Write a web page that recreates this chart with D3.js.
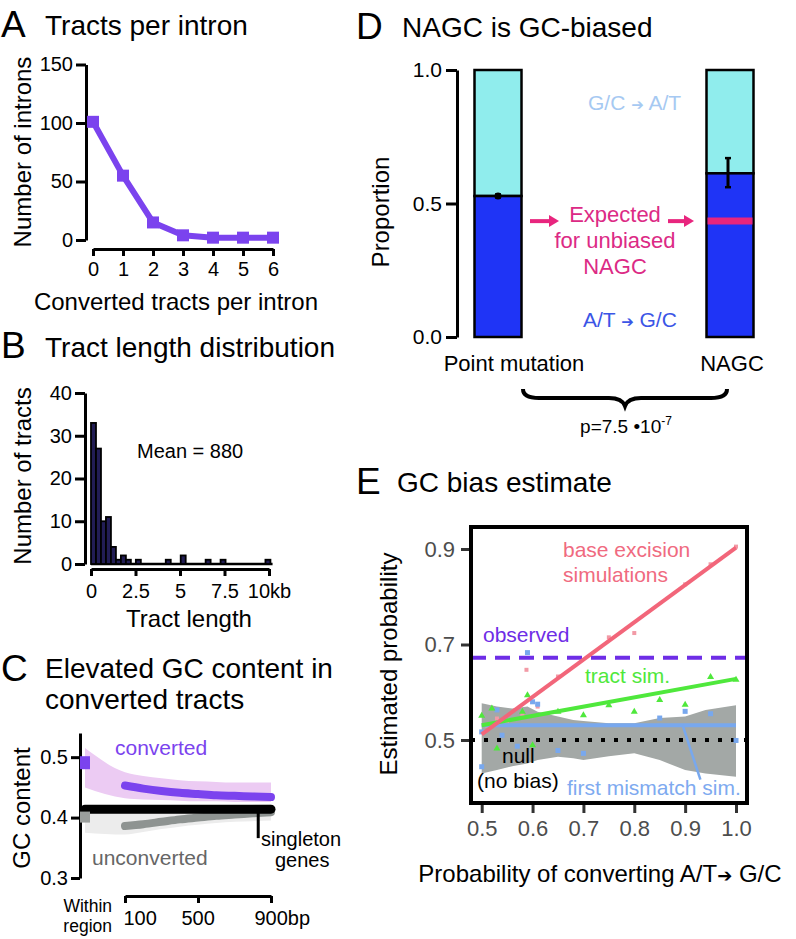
<!DOCTYPE html>
<html><head><meta charset="utf-8">
<script src="https://cdn.jsdelivr.net/npm/d3@7"></script>
<style>body{margin:0;background:#fff}svg{display:block}text{font-family:"Liberation Sans",Arial,Helvetica,sans-serif}</style>
</head><body><svg id="c" width="796" height="939"></svg>
<script>
// ---------- DATA ----------
// Panel A
const A_tracts = [0,1,2,3,4,5,6];
const A_introns = [101,55,15,4,2,2,2];
const A_yTicks = [0,50,100,150];
// Panel B (histogram, bins in kb)
const B_binWidth = 0.28;
const B_binStart = [0,0.28,0.56,0.84,1.12,1.40,1.68,1.96,2.52,4.20,5.04,6.44,7.28,9.80];
const B_counts   = [33,27,10,11,4,1,2,1,1,1,2,1,1,1];
const B_xTicks = [0,2.5,5,7.5,10];
const B_xLabels = ["0","2.5","5","7.5","10kb"];
const B_yTicks = [0,10,20,30,40];
// Panel C
const C_dist = [100,200,300,400,500,600,700,800,900];
const C_converted   = [0.453,0.448,0.444,0.441,0.439,0.437,0.436,0.435,0.434];
const C_convLo      = [0.432,0.430,0.429,0.428,0.427,0.427,0.426,0.426,0.426];
const C_convHi      = [0.475,0.469,0.465,0.462,0.460,0.459,0.458,0.458,0.458];
const C_unconverted = [0.386,0.389,0.393,0.397,0.400,0.403,0.405,0.407,0.409];
const C_unconvLo    = [0.372,0.376,0.381,0.385,0.388,0.391,0.393,0.394,0.395];
const C_unconvHi    = [0.410,0.412,0.414,0.416,0.418,0.419,0.420,0.421,0.422];
const C_withinConverted = 0.49, C_withinConvLo = 0.45, C_withinConvHi = 0.515;
const C_withinUnconverted = 0.40, C_withinUnconvLo = 0.375, C_withinUnconvHi = 0.42;
const C_singleton = 0.414;
const C_yTicks = [0.3,0.4,0.5];
const C_xTicks = [100,500,900];
const C_xLabels = ["100","500","900bp"];
// Panel D
const D_categories = ["Point mutation","NAGC"];
const D_ATtoGC = [0.528,0.613];
const D_errLo = [0.523,0.561];
const D_errHi = [0.534,0.670];
const D_expected = 0.434;
const D_yTicks = [0.0,0.5,1.0];
// Panel E
const E_xTicks = [0.5,0.6,0.7,0.8,0.9,1.0];
const E_yTicks = [0.5,0.7,0.9];
const E_bandX  = [0.50,0.53,0.56,0.59,0.61,0.65,0.68,0.70,0.75,0.80,0.85,0.90,0.94,1.00];
const E_bandHi = [0.577,0.570,0.566,0.570,0.559,0.549,0.542,0.540,0.535,0.535,0.546,0.549,0.563,0.573];
const E_bandLo = [0.430,0.437,0.445,0.451,0.458,0.465,0.462,0.458,0.466,0.472,0.458,0.437,0.430,0.423];
const E_pinkLine  = [[0.5,0.512],[1.0,0.903]];
const E_greenLine = [[0.5,0.531],[1.0,0.628]];
const E_blueLine  = [[0.5,0.531],[1.0,0.531]];
const E_observed = 0.672;
const E_null = 0.5;
const E_pinkPts  = [[0.51,0.53],[0.53,0.545],[0.55,0.54],[0.58,0.555],[0.588,0.647],[0.61,0.57],[0.65,0.633],[0.75,0.715],[0.80,0.724],[0.90,0.826],[0.95,0.868],[1.0,0.905]];
const E_greenPts = [[0.50,0.552],[0.52,0.567],[0.53,0.483],[0.58,0.56],[0.59,0.595],[0.60,0.49],[0.65,0.56],[0.70,0.553],[0.75,0.574],[0.80,0.56],[0.85,0.585],[0.90,0.575],[0.95,0.633],[1.0,0.627]];
const E_bluePts  = [[0.50,0.517],[0.50,0.444],[0.53,0.563],[0.54,0.51],[0.57,0.487],[0.59,0.683],[0.60,0.58],[0.61,0.575],[0.65,0.478],[0.70,0.472],[0.85,0.546],[0.90,0.56],[0.95,0.555],[1.0,0.499]];

// ---------- HELPERS ----------
const svg = d3.select("#c");
const FONT = '"Liberation Sans",Arial,Helvetica,sans-serif';
svg.append("rect").attr("width",796).attr("height",939).attr("fill","#fff");
function txt(x,y,s,o={}){
  const t = svg.append("text").attr("x",x).attr("y",y).text(s)
    .attr("font-size",o.size||21).attr("fill",o.fill||"#000")
    .attr("text-anchor",o.anchor||"start").attr("font-family",FONT);
  if(o.rot) t.attr("transform",`rotate(-90,${x},${y})`);
  return t;
}
function styleAxis(g,sw,fs,col,tcol){
  g.attr("font-family",FONT);
  g.selectAll("path,line").attr("stroke",col||"#000").attr("stroke-width",sw);
  g.selectAll("text").attr("font-size",fs).attr("fill",tcol||col||"#000").attr("font-family",FONT);
}

// ---------- PANEL A ----------
txt(1,37,"A",{size:37});
txt(45,35,"Tracts per intron",{size:28});
const xA = d3.scaleLinear().domain([0,6]).range([93,273]);
const yA = d3.scaleLinear().domain([0,150]).range([240,64.5]);
styleAxis(svg.append("g").attr("transform","translate(86,0)")
  .call(d3.axisLeft(yA).tickValues(A_yTicks).tickFormat(d3.format("d")).tickSize(10).tickSizeOuter(0).tickPadding(3)),3,20);
styleAxis(svg.append("g").attr("transform","translate(0,249)")
  .call(d3.axisBottom(xA).tickValues(A_tracts).tickFormat(d3.format("d")).tickSize(7).tickSizeOuter(0).tickPadding(6)),3,20);
txt(176,310,"Converted tracts per intron",{size:24,anchor:"middle"});
txt(31,152,"Number of introns",{size:24,anchor:"middle",rot:true});
const colA = "#7b43ee";
svg.append("path").datum(A_tracts.map((t,i)=>[t,A_introns[i]]))
  .attr("d",d3.line().x(d=>xA(d[0])).y(d=>yA(d[1])))
  .attr("fill","none").attr("stroke",colA).attr("stroke-width",6).attr("stroke-linejoin","round");
svg.selectAll(".mA").data(A_tracts).enter().append("rect")
  .attr("x",d=>xA(d)-6).attr("y",(d,i)=>yA(A_introns[i])-6).attr("width",12).attr("height",12)
  .attr("fill",colA);

// ---------- PANEL B ----------
txt(1,358,"B",{size:37});
txt(45,357,"Tract length distribution",{size:28});
const xB = d3.scaleLinear().domain([0,10]).range([91,269]);
const yB = d3.scaleLinear().domain([0,40]).range([564,393]);
styleAxis(svg.append("g").attr("transform","translate(85,0)")
  .call(d3.axisLeft(yB).tickValues(B_yTicks).tickFormat(d3.format("d")).tickSize(10).tickSizeOuter(0).tickPadding(3)),3,20);
const gBx = svg.append("g").attr("transform","translate(0,569)")
  .call(d3.axisBottom(xB).tickValues(B_xTicks).tickFormat((d,i)=>B_xLabels[i]).tickSize(7).tickSizeOuter(0).tickPadding(8));
styleAxis(gBx,3,20);
svg.append("line").attr("x1",xB(0)).attr("x2",xB(10.2)).attr("y1",yB(0)).attr("y2",yB(0))
  .attr("stroke","#000").attr("stroke-width",2.5);
svg.selectAll(".bB").data(B_binStart).enter().append("rect")
  .attr("x",d=>xB(d)).attr("width",d=>xB(d+B_binWidth)-xB(d))
  .attr("y",(d,i)=>yB(B_counts[i])).attr("height",(d,i)=>yB(0)-yB(B_counts[i]))
  .attr("fill","#221d55").attr("stroke","#000").attr("stroke-width",1.8);
txt(137,458,"Mean = 880",{size:20});
txt(189,627,"Tract length",{size:24,anchor:"middle"});
txt(31,476,"Number of tracts",{size:24,anchor:"middle",rot:true});

// ---------- PANEL C ----------
txt(1,681,"C",{size:37});
const tC = txt(45,678,"",{size:28});
tC.append("tspan").attr("x",45).text("Elevated GC content in");
tC.append("tspan").attr("x",45).attr("dy",31).text("converted tracts");
const xC = d3.scaleLinear().domain([100,900]).range([125,271]);
const xWithin = xC(100) - 40;
const yC = d3.scaleLinear().domain([0.3,0.54]).range([878,733]);
styleAxis(svg.append("g").attr("transform","translate(80,0)")
  .call(d3.axisLeft(yC).tickValues(C_yTicks).tickFormat(d3.format(".1f")).tickSize(9).tickSizeOuter(0).tickPadding(3)),3,20);
const gCx = svg.append("g").attr("transform","translate(0,896)")
  .call(d3.axisBottom(xC).tickValues(C_xTicks).tickFormat((d,i)=>C_xLabels[i]).tickSize(7).tickSizeOuter(0).tickPadding(8));
styleAxis(gCx,3,20);
gCx.selectAll(".tick text").attr("text-anchor","start").attr("dx",(d,i)=>i===0?-2:-17);
txt(112,912,"Within",{size:17.5,anchor:"end"});
txt(112,932,"region",{size:17.5,anchor:"end"});
txt(30,808,"GC content",{size:24,anchor:"middle",rot:true});
// ribbons
const convRib = [[xWithin,C_withinConvLo,C_withinConvHi]].concat(C_dist.map((d,i)=>[xC(d),C_convLo[i],C_convHi[i]]));
const uncRib  = [[xWithin,C_withinUnconvLo,C_withinUnconvHi]].concat(C_dist.map((d,i)=>[xC(d),C_unconvLo[i],C_unconvHi[i]]));
const ribArea = d3.area().x(d=>d[0]).y0(d=>yC(d[1])).y1(d=>yC(d[2])).curve(d3.curveMonotoneX);
svg.append("path").datum(uncRib).attr("d",ribArea).attr("fill","#ececec");
svg.append("path").datum(convRib).attr("d",ribArea).attr("fill","#eccbf3");
const lineC = d3.line().x((d,i)=>xC(C_dist[i])).y(d=>yC(d)).curve(d3.curveMonotoneX);
svg.append("path").datum(C_unconverted).attr("d",lineC).attr("fill","none").attr("stroke","#8e9391").attr("stroke-width",8).attr("stroke-linecap","round");
svg.append("line").attr("x1",xWithin).attr("x2",xC(900)).attr("y1",yC(C_singleton)).attr("y2",yC(C_singleton))
  .attr("stroke","#000").attr("stroke-width",9).attr("stroke-linecap","round");
svg.append("path").datum(C_converted).attr("d",lineC).attr("fill","none").attr("stroke","#7b43ee").attr("stroke-width",8).attr("stroke-linecap","round");
svg.append("rect").attr("x",xWithin-5).attr("y",yC(C_withinConverted)-7).attr("width",10).attr("height",13).attr("fill","#7b43ee");
svg.append("rect").attr("x",xWithin-5).attr("y",yC(C_withinUnconverted)-6).attr("width",10).attr("height",11).attr("fill","#9a9e9c");
svg.append("line").attr("x1",xC(830)).attr("x2",xC(830)).attr("y1",yC(C_singleton)).attr("y2",yC(C_singleton)+29)
  .attr("stroke","#000").attr("stroke-width",3);
const sg = txt(261,846,"",{size:20});
sg.append("tspan").attr("x",261).text("singleton");
sg.append("tspan").attr("x",275).attr("dy",21).text("genes");
txt(115,755,"converted",{size:21,fill:"#7b43ee"});
txt(92,865,"unconverted",{size:21,fill:"#666"});

// ---------- PANEL D ----------
txt(356,39,"D",{size:37});
txt(402,37,"NAGC is GC-biased",{size:28});
const yD = d3.scaleLinear().domain([0,1]).range([337,70]);
const xD = d3.scalePoint().domain(D_categories).range([498,730]);
const bw = 47;
styleAxis(svg.append("g").attr("transform","translate(457,0)")
  .call(d3.axisLeft(yD).tickValues(D_yTicks).tickFormat(d3.format(".1f")).tickSize(11).tickSizeOuter(0).tickPadding(4)),3,21);
D_categories.forEach((c,i)=>{
  const x0 = xD(c)-bw/2;
  svg.append("rect").attr("x",x0).attr("y",yD(1)).attr("width",bw).attr("height",yD(D_ATtoGC[i])-yD(1))
    .attr("fill","#90eded").attr("stroke","#000").attr("stroke-width",2.5);
  svg.append("rect").attr("x",x0).attr("y",yD(D_ATtoGC[i])).attr("width",bw).attr("height",yD(0)-yD(D_ATtoGC[i]))
    .attr("fill","#1f34f6").attr("stroke","#000").attr("stroke-width",2.5);
});
svg.append("line").attr("x1",xD("NAGC")-bw/2+1).attr("x2",xD("NAGC")+bw/2-1).attr("y1",yD(D_expected)).attr("y2",yD(D_expected))
  .attr("stroke","#e8257e").attr("stroke-width",7);
D_categories.forEach((c,i)=>{
  const cx = xD(c) - (i===1?2:0);
  svg.append("line").attr("x1",cx).attr("x2",cx).attr("y1",yD(D_errLo[i])).attr("y2",yD(D_errHi[i])).attr("stroke","#000").attr("stroke-width",3);
  [D_errLo[i],D_errHi[i]].forEach(v=>svg.append("line").attr("x1",cx-3).attr("x2",cx+3).attr("y1",yD(v)).attr("y2",yD(v)).attr("stroke","#000").attr("stroke-width",2.5));
  if(i===0) svg.append("circle").attr("cx",cx).attr("cy",yD(D_ATtoGC[i])).attr("r",3.5).attr("fill","#000");
});
txt(514,371,"Point mutation",{size:22,anchor:"middle"});
txt(732,371,"NAGC",{size:22,anchor:"middle"});
txt(389,212,"Proportion",{size:24,anchor:"middle",rot:true});
const gc1 = txt(588,110,"",{size:21,fill:"#a6c9f2"});
gc1.append("tspan").text("G/C ");
gc1.append("tspan").text("➔").attr("font-size",15).attr("font-family","DejaVu Sans");
gc1.append("tspan").text(" A/T");
const gc2 = txt(583,327,"",{size:21,fill:"#3b55e6"});
gc2.append("tspan").text("A/T  ");
gc2.append("tspan").text("➔").attr("font-size",15).attr("font-family","DejaVu Sans");
gc2.append("tspan").text(" G/C");
const pk = "#dc2a85";
const ex = txt(615,222,"",{size:22,fill:pk,anchor:"middle"});
ex.append("tspan").attr("x",615).text("Expected");
ex.append("tspan").attr("x",615).attr("dy",26).text("for unbiased");
ex.append("tspan").attr("x",615).attr("dy",26).text("NAGC");
function arrow(x1,x2,y,col){
  svg.append("line").attr("x1",x1).attr("x2",x2-8).attr("y1",y).attr("y2",y).attr("stroke",col).attr("stroke-width",4);
  svg.append("path").attr("d",`M${x2},${y} L${x2-10},${y-6} L${x2-10},${y+6} Z`).attr("fill",col);
}
arrow(530,559,yD(D_expected),"#e8257e");
arrow(668,694,yD(D_expected),"#e8257e");
const bx0 = xD("Point mutation")+25, bx1 = xD("NAGC")-3, bm=(bx0+bx1)/2, by=389;
svg.append("path").attr("d",`M${bx0},${by} Q${bx0},${by+9} ${bx0+16},${by+9} L${bm-16},${by+9} Q${bm-3},${by+9} ${bm},${by+17} Q${bm+3},${by+9} ${bm+16},${by+9} L${bx1-16},${by+9} Q${bx1},${by+9} ${bx1},${by}`)
  .attr("fill","none").attr("stroke","#000").attr("stroke-width",4);
const pv = txt(626,433,"",{size:19,anchor:"middle"});
pv.append("tspan").text("p=7.5 •10");
pv.append("tspan").text("-7").attr("font-size",12).attr("dy",-8);

// ---------- PANEL E ----------
txt(356,494,"E",{size:37});
txt(397,492,"GC bias estimate",{size:28});
const xE = d3.scaleLinear().domain([0.5,1.0]).range([481.7,736]);
const yE = d3.scaleLinear().domain([0.5,0.9]).range([740,549]);
const boxL=471, boxR=747, boxT=527, boxB=803;
svg.append("defs").append("clipPath").attr("id","clipE").append("rect").attr("x",boxL).attr("y",boxT).attr("width",boxR-boxL).attr("height",boxB-boxT);
const gE = svg.append("g").attr("clip-path","url(#clipE)");
gE.append("path").datum(E_bandX.map((x,i)=>[x,E_bandLo[i],E_bandHi[i]]))
  .attr("d",d3.area().x(d=>xE(d[0])).y0(d=>yE(d[1])).y1(d=>yE(d[2])))
  .attr("fill","#a3a8a6");
gE.append("line").attr("x1",boxL).attr("x2",boxR).attr("y1",yE(E_null)).attr("y2",yE(E_null))
  .attr("stroke","#000").attr("stroke-width",4).attr("stroke-dasharray","4,9");
gE.append("line").attr("x1",boxL).attr("x2",boxR).attr("y1",yE(E_observed)).attr("y2",yE(E_observed))
  .attr("stroke","#6e2de6").attr("stroke-width",4).attr("stroke-dasharray","15,9");
const lE = d3.line().x(d=>xE(d[0])).y(d=>yE(d[1]));
gE.selectAll(".pp").data(E_pinkPts).enter().append("rect").attr("x",d=>xE(d[0])-2).attr("y",d=>yE(d[1])-2).attr("width",4).attr("height",4).attr("fill","#f29aa6");
gE.selectAll(".bp").data(E_bluePts).enter().append("rect").attr("x",d=>xE(d[0])-2.5).attr("y",d=>yE(d[1])-2.5).attr("width",5).attr("height",5).attr("fill","#78a8ee");
gE.selectAll(".gp").data(E_greenPts).enter().append("path").attr("d",d=>{const x=xE(d[0]),y=yE(d[1]);return `M${x},${y-3.5} L${x+3.5},${y+2.5} L${x-3.5},${y+2.5} Z`;}).attr("fill","#4fe83c");
gE.append("path").datum(E_blueLine).attr("d",lE).attr("stroke","#78a8ee").attr("stroke-width",4).attr("fill","none");
gE.append("path").datum(E_greenLine).attr("d",lE).attr("stroke","#4fe83c").attr("stroke-width",4).attr("fill","none");
gE.append("path").datum(E_pinkLine).attr("d",lE).attr("stroke","#f2667a").attr("stroke-width",4).attr("fill","none");
gE.append("line").attr("x1",xE(0.895)).attr("y1",yE(0.531)).attr("x2",xE(0.93)).attr("y2",yE(0.417)).attr("stroke","#78a8ee").attr("stroke-width",2.5);
svg.append("rect").attr("x",boxL).attr("y",boxT).attr("width",boxR-boxL).attr("height",boxB-boxT)
  .attr("fill","none").attr("stroke","#000").attr("stroke-width",4);
const gEy = svg.append("g").attr("transform",`translate(${boxL-2},0)`)
  .call(d3.axisLeft(yE).tickValues(E_yTicks).tickFormat(d3.format(".1f")).tickSize(8).tickPadding(6));
styleAxis(gEy,3,22,"#333","#4d4d4d"); gEy.select(".domain").remove();
const gEx = svg.append("g").attr("transform",`translate(0,${boxB+2})`)
  .call(d3.axisBottom(xE).tickValues(E_xTicks).tickFormat(d3.format(".1f")).tickSize(8).tickPadding(7));
styleAxis(gEx,3,22,"#333","#4d4d4d"); gEx.select(".domain").remove();
const be = txt(563,557,"",{size:21,fill:"#f06a80"});
be.append("tspan").attr("x",563).text("base excision");
be.append("tspan").attr("x",563).attr("dy",25).text("simulations");
txt(483,642,"observed",{size:21,fill:"#6e2de6"});
txt(585,683,"tract sim.",{size:21,fill:"#4fe83c"});
const nb = txt(502,763,"",{size:21});
nb.append("tspan").attr("x",502).text("null");
nb.append("tspan").attr("x",477).attr("dy",25).text("(no bias)");
txt(567,795,"first mismatch sim.",{size:21,fill:"#7eaaf0"});
txt(397,664,"Estimated probability",{size:24,anchor:"middle",rot:true});
const xt = txt(600,882,"",{size:24,anchor:"middle"});
xt.append("tspan").text("Probability of converting A/T");
xt.append("tspan").text("➔").attr("font-family","DejaVu Sans").attr("font-size",18);
xt.append("tspan").text(" G/C");
</script></body></html>
